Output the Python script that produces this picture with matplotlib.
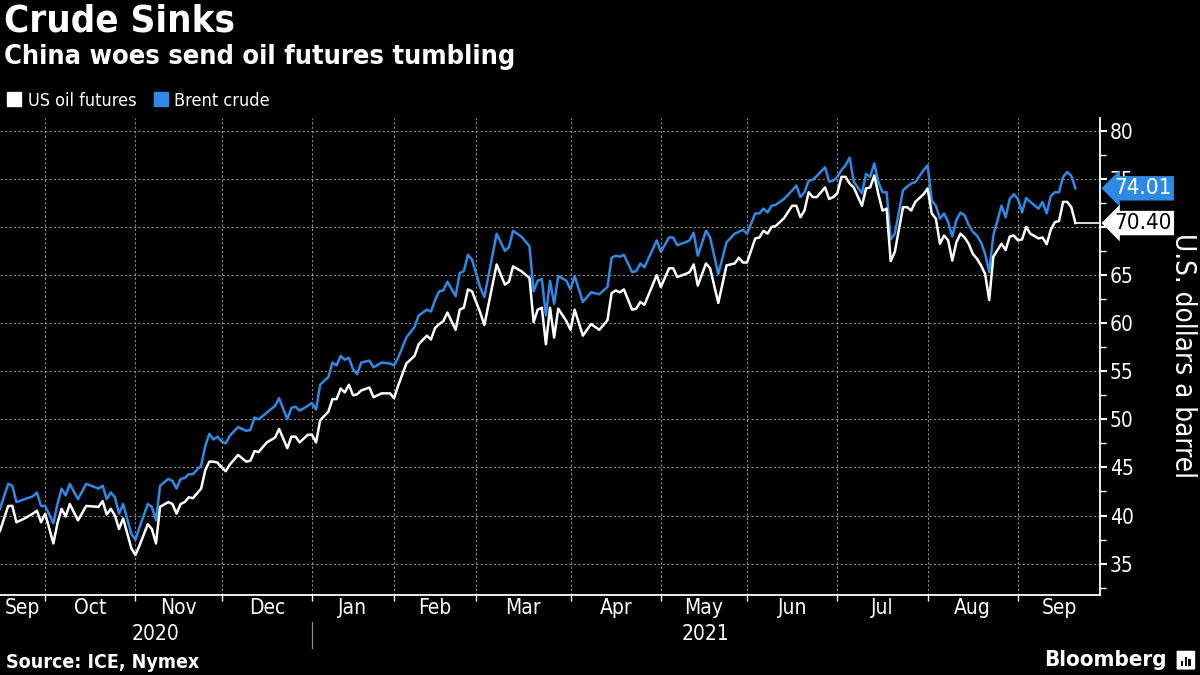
import numpy as np
import matplotlib
matplotlib.use('Agg')
import matplotlib.pyplot as plt
from matplotlib import font_manager
from matplotlib.transforms import blended_transform_factory
from matplotlib.lines import Line2D
from matplotlib.patches import FancyBboxPatch, Rectangle

entries = font_manager.fontManager.ttflist
names = {f.name for f in entries}
cond = [f for f in entries if f.stretch in ('condensed', 'semi-condensed', 'extra-condensed')
        or 'Condensed' in f.name or 'Narrow' in f.name]
if 'Liberation Sans Narrow' in names:
    plt.rcParams['font.family'] = ['Liberation Sans Narrow', 'DejaVu Sans']
elif any(f.name == 'DejaVu Sans' and f.stretch == 'condensed' for f in entries):
    plt.rcParams['font.family'] = ['DejaVu Sans']
    plt.rcParams['font.stretch'] = 'condensed'
elif cond:
    plt.rcParams['font.family'] = [cond[0].name, 'DejaVu Sans']
else:
    plt.rcParams['font.family'] = ['Roboto', 'DejaVu Sans']

# ---------------- data ----------------
dates = [
    '2020-09-15', '2020-09-17', '2020-09-18', '2020-09-21', '2020-09-23', '2020-09-25',
    '2020-09-28', '2020-09-29', '2020-09-30', '2020-10-02', '2020-10-05', '2020-10-06',
    '2020-10-07', '2020-10-08', '2020-10-12', '2020-10-14', '2020-10-19', '2020-10-20',
    '2020-10-21', '2020-10-22', '2020-10-23', '2020-10-26', '2020-10-27', '2020-10-29',
    '2020-10-30', '2020-11-02', '2020-11-04', '2020-11-05', '2020-11-06', '2020-11-09',
    '2020-11-11', '2020-11-12', '2020-11-13', '2020-11-16', '2020-11-17', '2020-11-18',
    '2020-11-19', '2020-11-23', '2020-11-24', '2020-11-25', '2020-11-26', '2020-11-27',
    '2020-11-30', '2020-12-01', '2020-12-02', '2020-12-04', '2020-12-08', '2020-12-09',
    '2020-12-10', '2020-12-11', '2020-12-15', '2020-12-17', '2020-12-18', '2020-12-22',
    '2020-12-23', '2020-12-24', '2020-12-28', '2020-12-30', '2020-12-31', '2021-01-04',
    '2021-01-05', '2021-01-07', '2021-01-08', '2021-01-11', '2021-01-12', '2021-01-13',
    '2021-01-14', '2021-01-15', '2021-01-18', '2021-01-19', '2021-01-21', '2021-01-22',
    '2021-01-26', '2021-01-28', '2021-01-29', '2021-02-01', '2021-02-03', '2021-02-05',
    '2021-02-08', '2021-02-10', '2021-02-11', '2021-02-12', '2021-02-15', '2021-02-16',
    '2021-02-17', '2021-02-19', '2021-02-22', '2021-02-23', '2021-02-24', '2021-02-25',
    '2021-03-01', '2021-03-02', '2021-03-05', '2021-03-09', '2021-03-10', '2021-03-11',
    '2021-03-15', '2021-03-17', '2021-03-18', '2021-03-19', '2021-03-22', '2021-03-23',
    '2021-03-24', '2021-03-25', '2021-03-26', '2021-03-30', '2021-03-31', '2021-04-01',
    '2021-04-05', '2021-04-07', '2021-04-09', '2021-04-12', '2021-04-13', '2021-04-14',
    '2021-04-15', '2021-04-16', '2021-04-19', '2021-04-21', '2021-04-22', '2021-04-23',
    '2021-04-26', '2021-04-29', '2021-04-30', '2021-05-04', '2021-05-05', '2021-05-06',
    '2021-05-10', '2021-05-11', '2021-05-12', '2021-05-13', '2021-05-17', '2021-05-18',
    '2021-05-20', '2021-05-24', '2021-05-26', '2021-05-27', '2021-05-28', '2021-05-31',
    '2021-06-02', '2021-06-03', '2021-06-04', '2021-06-07', '2021-06-08', '2021-06-09',
    '2021-06-11', '2021-06-15', '2021-06-16', '2021-06-17', '2021-06-18', '2021-06-21',
    '2021-06-22', '2021-06-23', '2021-06-25', '2021-06-28', '2021-06-29', '2021-06-30',
    '2021-07-01', '2021-07-02', '2021-07-05', '2021-07-06', '2021-07-08', '2021-07-09',
    '2021-07-12', '2021-07-13', '2021-07-14', '2021-07-15', '2021-07-16', '2021-07-19',
    '2021-07-20', '2021-07-22', '2021-07-23', '2021-07-26', '2021-07-27', '2021-07-29',
    '2021-07-30', '2021-08-02', '2021-08-03', '2021-08-04', '2021-08-05', '2021-08-06',
    '2021-08-09', '2021-08-10', '2021-08-11', '2021-08-12', '2021-08-13', '2021-08-16',
    '2021-08-17', '2021-08-18', '2021-08-19', '2021-08-20', '2021-08-23', '2021-08-25',
    '2021-08-26', '2021-08-27', '2021-08-30', '2021-08-31', '2021-09-01', '2021-09-02',
    '2021-09-03', '2021-09-07', '2021-09-08', '2021-09-09', '2021-09-10', '2021-09-13',
    '2021-09-14', '2021-09-15', '2021-09-16', '2021-09-17', '2021-09-20',
]

brent = [
    40.7, 43.3, 43.1, 41.4, 41.7, 42.0,
    42.4, 41.0, 41.0, 39.2, 41.2, 42.8,
    42.1, 43.3, 41.7, 43.3, 42.8, 43.1,
    41.7, 42.4, 41.9, 40.2, 41.2, 38.1,
    37.5, 38.8, 41.2, 40.9, 39.5, 43.1,
    43.8, 43.6, 42.8, 43.8, 43.9, 44.3,
    44.3, 45.2, 47.2, 48.5, 47.9, 48.2,
    47.7, 47.5, 48.3, 49.2, 48.8, 48.9,
    50.2, 50.0, 50.7, 51.4, 52.2, 50.0,
    51.2, 51.3, 50.9, 51.4, 51.7, 51.0,
    53.6, 54.4, 55.9, 55.6, 56.6, 56.2,
    56.4, 55.2, 54.7, 55.9, 56.1, 55.4,
    55.9, 55.8, 55.6, 56.4, 58.5, 59.6,
    60.8, 61.4, 61.2, 62.4, 63.3, 63.4,
    64.3, 62.8, 65.2, 65.4, 67.1, 66.6,
    63.7, 62.7, 69.3, 67.5, 67.9, 69.6,
    69.0, 68.0, 63.3, 64.4, 64.6, 60.8,
    64.4, 62.0, 64.9, 64.4, 63.5, 64.9,
    62.2, 63.2, 63.0, 63.4, 63.75, 66.8,
    67.0, 66.9, 67.1, 65.3, 65.4, 66.2,
    65.8, 68.6, 67.4, 68.9, 68.9, 68.1,
    68.4, 68.6, 69.4, 67.0, 69.6, 68.9,
    65.1, 68.4, 69.3, 69.5, 69.7, 69.3,
    71.4, 71.4, 71.9, 71.5, 72.2, 72.3,
    72.9, 73.8, 74.3, 73.1, 73.6, 74.8,
    74.9, 75.3, 76.2, 74.7, 74.8, 75.2,
    75.9, 76.4, 77.2, 74.7, 73.5, 75.5,
    75.2, 76.6, 74.65, 73.6, 73.6, 68.7,
    69.3, 73.8, 74.2, 74.5, 74.65, 75.9,
    76.4, 72.75, 72.2, 70.85, 71.4, 70.5,
    69.0, 70.7, 71.5, 71.2, 70.2, 69.5,
    69.1, 68.4, 67.2, 65.3, 69.1, 72.2,
    71.0, 72.9, 73.4, 72.9, 71.5, 73.0,
    72.6, 71.9, 72.6, 71.4, 73.2, 73.6,
    73.6, 75.2, 75.7, 75.3, 74.01,
]

wti = [
    38.4, 41.0, 41.0, 39.3, 39.7, 40.2,
    40.5, 39.3, 40.2, 37.1, 39.2, 40.7,
    39.9, 41.2, 39.5, 41.0, 40.9, 41.5,
    40.1, 40.7, 40.0, 38.6, 39.7, 36.6,
    35.9, 36.9, 39.1, 38.6, 37.1, 40.9,
    41.4, 41.2, 40.2, 41.2, 41.4, 41.9,
    41.8, 42.8, 44.7, 45.6, 45.6, 45.5,
    45.0, 44.6, 45.3, 46.3, 45.6, 45.7,
    46.7, 46.6, 47.6, 48.1, 49.0, 47.0,
    48.2, 48.2, 47.6, 48.4, 48.4, 47.6,
    49.9, 50.8, 52.1, 52.1, 53.2, 52.8,
    53.6, 52.5, 52.6, 53.0, 53.3, 52.3,
    52.7, 52.7, 52.2, 53.5, 55.8, 56.6,
    57.8, 58.7, 58.3, 59.5, 59.9, 60.2,
    61.1, 59.3, 61.4, 61.6, 63.5, 63.3,
    61.1, 59.8, 66.1, 64.0, 64.3, 65.9,
    65.4, 64.7, 60.1, 61.4, 61.6, 57.8,
    61.6, 58.5, 61.5, 60.2, 59.3, 61.4,
    58.7, 59.9, 59.3, 59.8, 60.3, 63.1,
    63.4, 63.2, 63.5, 61.4, 61.5, 62.2,
    61.9, 65.0, 63.75, 65.7, 65.7, 64.8,
    65.1, 65.3, 66.1, 63.9, 66.2, 65.7,
    62.1, 66.0, 66.2, 66.8, 66.3, 66.3,
    68.8, 68.9, 69.6, 69.3, 70.0, 70.1,
    70.9, 72.2, 72.2, 71.0, 71.7, 73.6,
    73.1, 73.1, 74.1, 72.9, 73.1, 73.5,
    75.2, 75.2, 74.5, 74.1, 72.2, 74.0,
    74.1, 75.35, 73.4, 71.7, 71.9, 66.45,
    67.4, 72.05, 72.05, 71.7, 72.6, 73.4,
    74.0, 71.4, 70.85, 68.25, 69.1, 68.6,
    66.5, 68.4, 69.3, 68.9, 68.25, 67.2,
    66.7, 66.0, 65.1, 62.4, 66.9, 68.25,
    67.6, 69.0, 69.1, 68.6, 68.7, 70.0,
    69.3, 68.8, 68.9, 68.2, 69.7, 70.5,
    70.6, 72.6, 72.6, 72.05, 70.40,
]

month_firsts = ['2020-10-01', '2020-11-01', '2020-12-01', '2021-01-01', '2021-02-01',
                '2021-03-01', '2021-04-01', '2021-05-01', '2021-06-01', '2021-07-01',
                '2021-08-01', '2021-09-01']
month_labels = ['Sep', 'Oct', 'Nov', 'Dec', 'Jan', 'Feb', 'Mar', 'Apr', 'May', 'Jun',
                'Jul', 'Aug', 'Sep']
year_labels = ['2020', '2021']
y_major = [35, 40, 45, 50, 55, 60, 65, 70, 75, 80]
y_minor = [32.5, 37.5, 42.5, 47.5, 52.5, 57.5, 62.5, 67.5, 72.5, 77.5]
series_names = ['US oil futures', 'Brent crude']

START = '2020-09-15'
AXIS_END = '2021-09-28'
HOLIDAYS = ['2020-12-25', '2021-01-01']

BLUE = '#2e8ae6'
WHITE = '#ffffff'
GRID = '#8c8c8c'


def tday(d):
    return int(np.busday_count(START, d, holidays=HOLIDAYS))


x = np.array([tday(d) for d in dates])
x_end = tday(AXIS_END)
bounds = [tday(m) - 1 for m in month_firsts]

fig = plt.figure(figsize=(12, 6.75), dpi=100, facecolor='black')
ax = fig.add_axes([0.0, 0.1185, 0.9167, 0.7067])
ax.set_facecolor('black')

ax.set_xlim(0, x_end)
ax.set_ylim(31.74, 81.32)

for v in y_major:
    ax.axhline(v, color=GRID, lw=0.8, ls=(0, (2, 2)), zorder=1)
for b in bounds:
    ax.axvline(b, color=GRID, lw=0.8, ls=(0, (2, 2)), zorder=1)

ax.plot(x, brent, color=BLUE, lw=1.8, zorder=3, solid_joinstyle='round')
ax.plot(x, wti, color=WHITE, lw=1.8, zorder=4, solid_joinstyle='round')
ax.plot([x[-1], x_end], [wti[-1], wti[-1]], color=WHITE, lw=1.2, zorder=4, clip_on=False)

for s in ['left', 'top']:
    ax.spines[s].set_visible(False)
for s in ['right', 'bottom']:
    ax.spines[s].set_color('white')
    ax.spines[s].set_linewidth(1.3)

ax.yaxis.tick_right()
ax.set_yticks(y_major)
ax.set_yticks(y_minor, minor=True)
ax.set_yticklabels([str(v) for v in y_major])
ax.tick_params(axis='y', which='major', colors='white', labelsize=15, length=5, width=1.5, pad=2)
ax.tick_params(axis='y', which='minor', colors='white', length=4, width=1.0)

ax.set_xticks(bounds)
ax.set_xticklabels([])
ax.tick_params(axis='x', which='major', colors='white', length=4, width=1.0)

trans = blended_transform_factory(ax.transData, fig.transFigure)
edges = [0] + bounds + [x_end]
for i, lab in enumerate(month_labels):
    c = (edges[i] + edges[i + 1]) / 2
    ax.text(c, 0.099, lab, transform=trans, color='white', fontsize=15,
            ha='center', va='center')

jan_b = bounds[3]
ax.text(jan_b / 2, 0.061, year_labels[0], transform=trans, color='white', fontsize=15,
        ha='center', va='center')
ax.text((jan_b + x_end) / 2, 0.061, year_labels[1], transform=trans, color='white',
        fontsize=15, ha='center', va='center')
ax.add_line(Line2D([jan_b, jan_b], [0.04, 0.078], transform=trans, color=GRID, lw=0.9,
                   clip_on=False))

ttrans = blended_transform_factory(ax.transAxes, ax.transData)
ax.text(1.013, brent[-1], f'{brent[-1]:.2f}', transform=ttrans, color='white', fontsize=16,
        ha='left', va='center', zorder=6,
        bbox=dict(boxstyle='larrow,pad=0.1', fc=BLUE, ec='none'))
ax.text(1.013, wti[-1], f'{wti[-1]:.2f}', transform=ttrans, color='black', fontsize=16,
        ha='left', va='center', zorder=6,
        bbox=dict(boxstyle='larrow,pad=0.1', fc='white', ec='none'))

fig.text(0.986, 0.473, 'U.S. dollars a barrel', color='white', fontsize=20,
         rotation=270, ha='center', va='center')

fig.text(0.003, 0.995, 'Crude Sinks', color='white', fontsize=27.5, fontweight='bold',
         ha='left', va='top')
fig.text(0.003, 0.935, 'China woes send oil futures tumbling', color='white', fontsize=19.5,
         fontweight='bold', ha='left', va='top')

handles = [Line2D([], [], marker='s', ls='', color=WHITE, markersize=9.5),
           Line2D([], [], marker='s', ls='', color=BLUE, markersize=9.5)]
fig.legend(handles, series_names, loc='center left', bbox_to_anchor=(-0.007, 0.851),
           ncol=2, frameon=False, handlelength=0.7, handletextpad=0.4,
           columnspacing=1.0, fontsize=13, labelcolor='white')

fig.text(0.005, 0.019, 'Source: ICE, Nymex', color='white', fontsize=14, fontweight='bold',
         ha='left', va='center')
fig.text(0.972, 0.022, 'Bloomberg', color='white', fontsize=16, fontweight='bold',
         ha='right', va='center')
fig.patches.append(FancyBboxPatch((0.9815, 0.009), 0.0135, 0.026, boxstyle='round,pad=0.001',
                                  transform=fig.transFigure, fc='white', ec='none'))
for i, h in enumerate([0.008, 0.014, 0.011]):
    fig.patches.append(Rectangle((0.9838 + i * 0.0033, 0.013), 0.0018, h,
                                 transform=fig.transFigure, fc='black', ec='none'))

fig.savefig('out.png', dpi=100, facecolor='black')
